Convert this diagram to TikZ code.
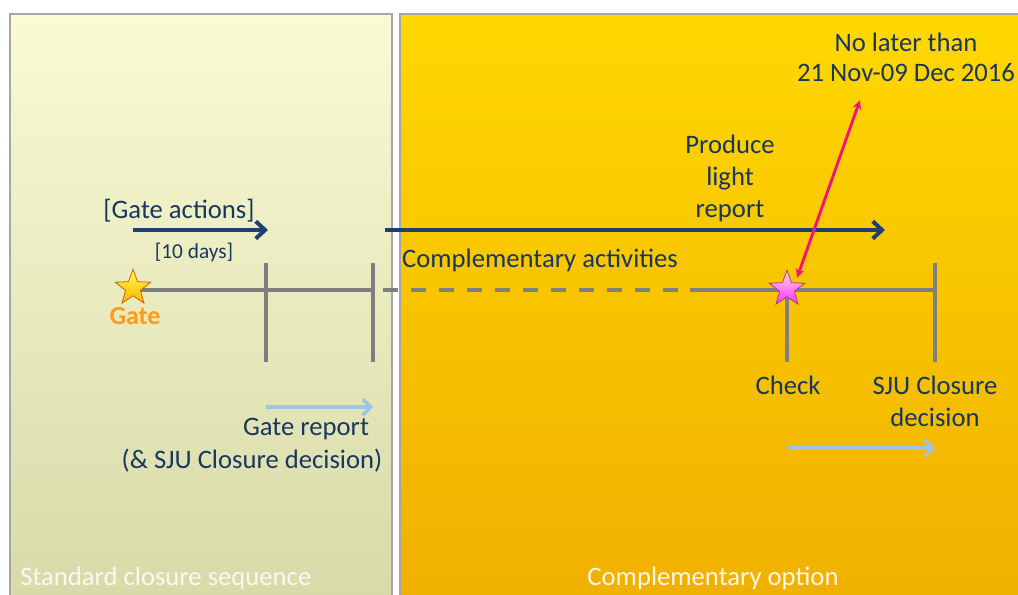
\documentclass[tikz,border=0pt]{standalone}
\usepackage{fontspec}
\setmainfont{Carlito}
\usetikzlibrary{shapes.geometric,arrows.meta}
\definecolor{navy}{HTML}{17375E}
\definecolor{navyarrow}{HTML}{1F3F6E}
\definecolor{tlgray}{HTML}{7F7F7F}
\definecolor{lblue}{HTML}{9DC3E6}
\definecolor{pinkarrow}{HTML}{F0157A}
\definecolor{gateorange}{HTML}{FF9A1A}
\definecolor{leftTop}{HTML}{FAFAD4}
\definecolor{leftBot}{HTML}{D8DAA8}
\definecolor{rightTop}{HTML}{FFD800}
\definecolor{rightBot}{HTML}{F0B000}
\tikzset{
  txt/.style={font=\fontsize{20}{24}\selectfont, text=navy, align=center, inner sep=1pt},
  navyarr/.style={draw=navyarrow, line width=3.6pt, -{Straight Barb[length=7pt,width=13pt,line width=3pt]}},
  bluearr/.style={draw=lblue, line width=3pt, -{Straight Barb[length=6pt,width=12pt,line width=2.5pt]}},
  tl/.style={draw=tlgray, line width=3pt},
  tick/.style={draw=tlgray, line width=2.6pt},
  starnode/.style={star, star points=5, star point ratio=2.4, minimum size=28pt, inner sep=0pt, line width=0.6pt},
  panel/.style={draw=gray!70, line width=0.8pt}
}
\begin{document}
\begin{tikzpicture}[x=0.75pt,y=-0.75pt]
\useasboundingbox (0,0) rectangle (1018,595);
\fill[white] (0,0) rectangle (1018,595);
% panels
\shade[top color=leftTop, bottom color=leftBot] (10,14) rectangle (392,597);
\draw[panel] (10,597) -- (10,14) -- (392,14) -- (392,597);
\shade[top color=rightTop, bottom color=rightBot] (400,14) rectangle (1020,597);
\draw[panel] (400,597) -- (400,14) -- (1020,14);
% panel captions
\node[font=\fontsize{20}{24}\selectfont, text=white, text opacity=0.85, anchor=west, inner sep=0pt] (std) at (20,578) {Standard closure sequence};
\node[font=\fontsize{20}{24}\selectfont, text=white, text opacity=0.9, inner sep=0pt] (compopt) at (713,578) {Complementary option};
% timeline coordinates
\coordinate (gatept) at (133,290);
\coordinate (t1) at (266,290);
\coordinate (t1b) at (266,362);
\coordinate (t1t) at (266,263);
\coordinate (t2) at (373,290);
\coordinate (t2b) at (373,362);
\coordinate (t2t) at (373,263);
\coordinate (dstart) at (383,290);
\coordinate (dend) at (690,290);
\coordinate (chk) at (787,290);
\coordinate (chkb) at (787,362);
\coordinate (t4) at (935,290);
\coordinate (t4b) at (935,362);
\coordinate (t4t) at (935,263);
% timeline
\draw[tl] (gatept) -- (t2);
\draw[tl, dash pattern=on 11pt off 10pt] (dstart) -- (dend);
\draw[tl] (dend) -- (t4);
\draw[tick] (t1t) -- (t1b);
\draw[tick] (t2t) -- (t2b);
\draw[tick] (chk) -- (chkb);
\draw[tick] (t4t) -- (t4b);
% stars
\node[starnode, draw=orange!80!black, top color=yellow!70!white, bottom color=orange!60!yellow] (gatestar) at (133,288) {};
\node[starnode, draw=magenta!70!black, top color=pink!60!white, bottom color=magenta!80!white] (chkstar) at (787,289) {};
% labels
\node[font=\bfseries\fontsize{19.5}{23}\selectfont, text=gateorange, inner sep=1pt] (gatelbl) at (135,316) {Gate};
\node[txt] (gateact) at (179,211) {[Gate actions]};
\node[txt, font=\fontsize{16}{20}\selectfont] (tendays) at (194,253) {[10 days]};
\node[txt] (compact) at (540,260) {Complementary activities};
\node[txt, font=\fontsize{20}{24}\selectfont] (produce) at (730,178) {Produce\\light\\report};
\node[txt, font=\fontsize{20}{22.5}\selectfont] (nolater) at (906,57) {No later than\\21 Nov-09 Dec 2016};
\node[txt] (check) at (788,385) {Check};
\node[txt] (sju) at (935,401) {SJU Closure\\decision};
\node[txt, align=right, font=\fontsize{20}{25}\selectfont] (gaterep) at (252,445) {Gate report\hspace*{10pt}\\(\& SJU Closure decision)};
% navy arrows
\coordinate (ga1) at (133,230);
\coordinate (ga2) at (268,230);
\coordinate (ca1) at (385,230);
\coordinate (ca2) at (885,230);
\draw[navyarr] (ga1) -- (ga2);
\draw[navyarr] (ca1) -- (ca2);
% light blue arrows
\coordinate (gr1) at (266,407);
\coordinate (gr2) at (373,407);
\coordinate (cd1) at (787,448);
\coordinate (cd2) at (935,448);
\draw[bluearr] (gr1) -- (gr2);
\draw[bluearr] (cd1) -- (cd2);
% pink arrow
\coordinate (pk1) at (860,100);
\coordinate (pk2) at (797,278);
\draw[pinkarrow, line width=2.2pt, {Stealth[length=7pt,width=6.5pt]}-{Stealth[length=7pt,width=6.5pt]}] (pk1) -- (pk2);
\end{tikzpicture}
\end{document}
